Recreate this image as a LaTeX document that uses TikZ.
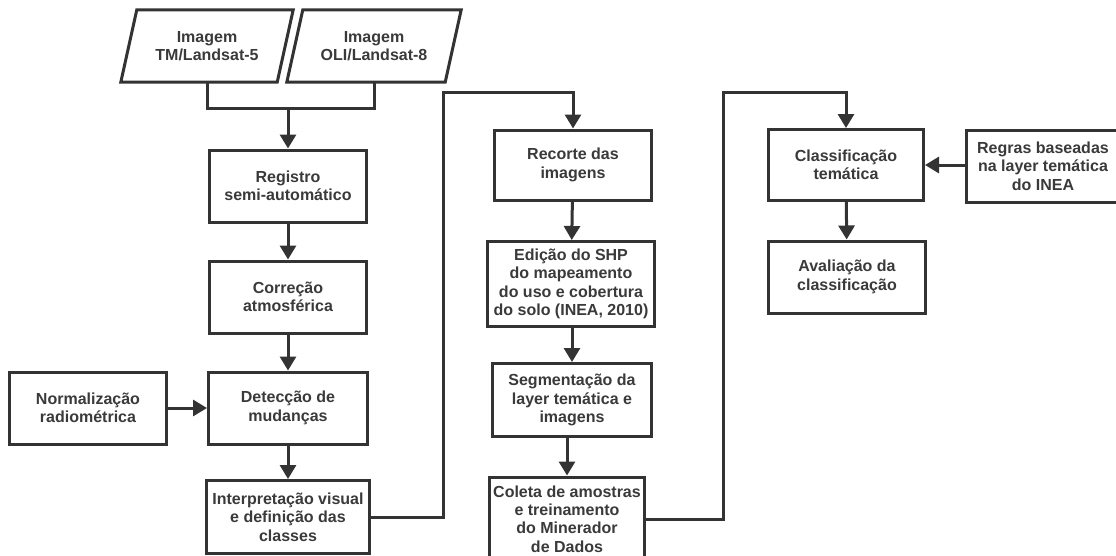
\documentclass[tikz,border=0pt]{standalone}
\usepackage{fontspec}
\setmainfont{Liberation Sans}
\usetikzlibrary{arrows.meta,calc}
\definecolor{linec}{RGB}{51,51,51}
\definecolor{txtc}{RGB}{58,58,58}
\begin{document}
\begin{tikzpicture}[x=1pt,y=-1pt,
  lbl/.style={align=center, text=txtc, font=\bfseries\fontsize{16}{18.3}\selectfont},
  box/.style={lbl, draw=linec, line width=3pt, fill=white, inner sep=2pt},
  pnode/.style={lbl, inner sep=0pt},
  conn/.style={draw=linec, line width=3pt},
  arr/.style={conn, -{Triangle[width=16pt,length=14pt]}}
]
\useasboundingbox (0,0) rectangle (1116,555);
\clip (0,0) rectangle (1116,555);
\fill[white] (0,0) rectangle (1116,555);

% input parallelograms
\node[pnode, minimum width=172pt, minimum height=72pt] (p1) at (207,46) {Imagem\\TM/Landsat-5};
\node[pnode, minimum width=174pt, minimum height=72pt] (p2) at (374,46) {Imagem\\OLI/Landsat-8};
\draw[conn] (p1.south west) -- ($(p1.south east)+(-16,0)$) -- (p1.north east) -- ($(p1.north west)+(16,0)$) -- cycle;
\draw[conn] (p2.south west) -- ($(p2.south east)+(-16,0)$) -- (p2.north east) -- ($(p2.north west)+(16,0)$) -- cycle;

% left column
\node[box, minimum width=157pt, minimum height=72pt] (reg) at (288,186) {Registro\\semi-automático};
\node[box, minimum width=157pt, minimum height=72pt] (cor) at (288,297) {Correção\\atmosférica};
\node[box, minimum width=159pt, minimum height=72pt] (det) at (288,408) {Detecção de\\mudanças};
\node[box, minimum width=157pt, minimum height=72pt] (nor) at (88,408) {Normalização\\radiométrica};
\node[box, minimum width=163pt, minimum height=73pt] (int) at (288,517) {Interpretação visual\\e definição das\\classes};

% middle column
\node[box, minimum width=157pt, minimum height=70pt] (rec) at (573,165) {Recorte das\\imagens};
\node[box, minimum width=167pt, minimum height=85pt] (edi) at (571,284) {Edição do SHP\\do mapeamento\\do uso e cobertura\\do solo (INEA, 2010)};
\node[box, minimum width=159pt, minimum height=73pt] (seg) at (572,400) {Segmentação da\\layer temática e\\imagens};
\node[box, minimum width=155pt, minimum height=84pt] (col) at (567,519) {Coleta de amostras\\e treinamento\\do Minerador\\de Dados};

% right column
\node[box, minimum width=155pt, minimum height=71pt] (cla) at (846,165) {Classificação\\temática};
\node[box, minimum width=154pt, minimum height=72pt] (rgr) at (1043,166) {Regras baseadas\\na layer temática\\do INEA};
\node[box, minimum width=157pt, minimum height=72pt] (ava) at (847,277) {Avaliação da\\classificação};

% junction and bend points
\coordinate (j) at (288,108);
\coordinate (c1) at (443,92);
\coordinate (c2) at (723,92);

% connectors
\draw[conn] (p1.south) |- (j) -| (p2.south);
\draw[arr] (j) -- (reg.north);
\draw[arr] (reg) -- (cor);
\draw[arr] (cor) -- (det);
\draw[arr] (nor) -- (det);
\draw[arr] (det) -- (int);
\draw[arr] (int.east) -| (c1) -| (rec.north);
\draw[arr] (rec) -- (edi);
\draw[arr] (edi.south -| seg.north) -- (seg.north);
\draw[arr] (seg.south -| col.north) -- (col.north);
\draw[arr] (col.east) -| (c2) -| (cla.north);
\draw[arr] (rgr.west |- cla.east) -- (cla.east);
\draw[arr] (cla) -- (ava);
\end{tikzpicture}
\end{document}
